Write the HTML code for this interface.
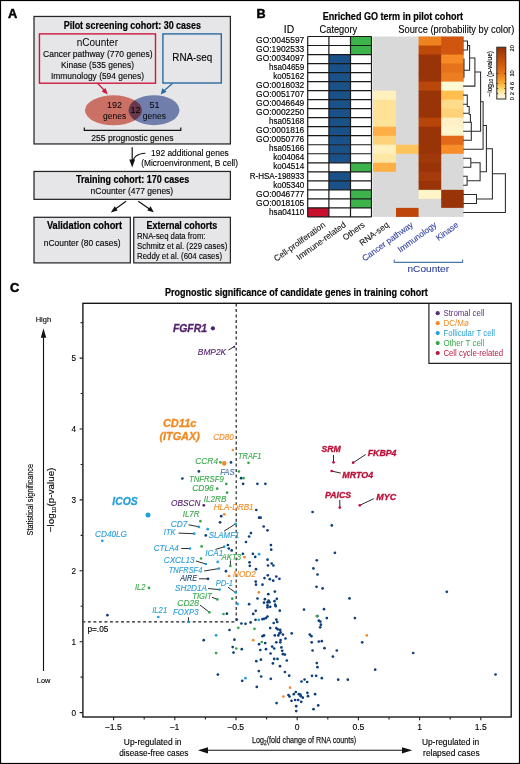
<!DOCTYPE html>
<html><head><meta charset="utf-8">
<style>
html,body{margin:0;padding:0;background:#fff;}
svg{display:block;font-family:"Liberation Sans",sans-serif;will-change:transform;}
</style></head><body>
<svg width="520" height="764" viewBox="0 0 520 764">
<rect x="0" y="0" width="520" height="764" fill="#fff"/>
<!-- ================= PANEL A ================= -->
<g id="panelA">
<text x="7.9" y="18.1" font-size="12.8" font-weight="bold" stroke="#000" stroke-width="0.45">A</text>
<rect x="34.0" y="16.45" width="196.4" height="127.5" fill="#e6e6e8" stroke="#262626" stroke-width="1.25"/>
<text x="63.7" y="29.2" font-size="10.4" font-weight="bold" stroke="#000" stroke-width="0.2" textLength="137.3" lengthAdjust="spacingAndGlyphs">Pilot screening cohort: 30 cases</text>
<rect x="39.45" y="33.9" width="116.05" height="49.3" fill="none" stroke="#cd1a3c" stroke-width="1.4"/>
<text x="76.7" y="46.2" font-size="10" textLength="41.3" lengthAdjust="spacingAndGlyphs">nCounter</text>
<text x="43" y="57" font-size="9.4" textLength="109.5" lengthAdjust="spacingAndGlyphs" fill="#000" stroke="#000" stroke-width="0.12">Cancer pathway (770 genes)</text>
<text x="61" y="67.5" font-size="9.4" textLength="73" lengthAdjust="spacingAndGlyphs" fill="#000" stroke="#000" stroke-width="0.12">Kinase (535 genes)</text>
<text x="51" y="78.5" font-size="9.4" textLength="93" lengthAdjust="spacingAndGlyphs" fill="#000" stroke="#000" stroke-width="0.12">Immunology (594 genes)</text>
<rect x="162.9" y="33.9" width="58.4" height="49.1" fill="none" stroke="#2a69a0" stroke-width="1.4"/>
<text x="172.3" y="61" font-size="10" textLength="39.9" lengthAdjust="spacingAndGlyphs" fill="#000" stroke="#000" stroke-width="0.12">RNA-seq</text>
<!-- arrows to venn -->
<line x1="97.3" y1="83" x2="104.5" y2="90.5" stroke="#cd1a3c" stroke-width="1.2"/>
<polygon points="107.7,94.6 101.6,91.4 105.6,88" fill="#cd1a3c"/>
<line x1="172.4" y1="83.5" x2="164" y2="90.8" stroke="#2a69a0" stroke-width="1.2"/>
<polygon points="160.8,94.6 162.2,88.3 166.6,91.8" fill="#2a69a0"/>
<!-- venn -->
<defs><clipPath id="vr"><ellipse cx="113.5" cy="110.3" rx="28.5" ry="15"/></clipPath></defs>
<ellipse cx="113.5" cy="110.3" rx="28.5" ry="15" fill="rgb(203,112,100)"/>
<ellipse cx="154" cy="110.2" rx="25.4" ry="15" fill="rgb(112,126,172)"/>
<ellipse cx="154" cy="110.2" rx="25.4" ry="15" fill="rgb(104,56,74)" clip-path="url(#vr)"/>
<text x="114.6" y="108.0" font-size="9" text-anchor="middle" fill="#000">192</text>
<text x="114.6" y="119.3" font-size="8.5" text-anchor="middle" fill="#000">genes</text>
<text x="135.4" y="113" font-size="9" text-anchor="middle" fill="#000">12</text>
<text x="154.4" y="108.0" font-size="9" text-anchor="middle" fill="#000">51</text>
<text x="154.4" y="119.3" font-size="8.5" text-anchor="middle" fill="#000">genes</text>
<path d="M84.3,127.6 V130.3 H180.8 V127.6" fill="none" stroke="#111" stroke-width="1.2"/>
<text x="91.3" y="140.9" font-size="8.6" fill="#000" stroke="#000" stroke-width="0.12">255 prognostic genes</text>
<!-- arrow down -->
<line x1="132.2" y1="147.2" x2="132.2" y2="161" stroke="#111" stroke-width="1.2"/>
<polygon points="132.2,167.5 129.3,159.5 135.1,159.5" fill="#111"/>
<path d="M145.4,153.2 C138,153.5 132.8,157 132.3,164" fill="none" stroke="#111" stroke-width="1.1"/>
<text x="151" y="155.6" font-size="8.9" textLength="77.8" lengthAdjust="spacingAndGlyphs" fill="#000" stroke="#000" stroke-width="0.12">192 additional genes</text>
<text x="141.3" y="166" font-size="8.9" textLength="96.7" lengthAdjust="spacingAndGlyphs" fill="#000" stroke="#000" stroke-width="0.12">(Microenvironment, B cell)</text>
<!-- training -->
<rect x="34.0" y="171.45" width="196.4" height="27.9" fill="#e6e6e8" stroke="#262626" stroke-width="1.25"/>
<text x="76" y="183.2" font-size="10.4" font-weight="bold" stroke="#000" stroke-width="0.2" textLength="113.2" lengthAdjust="spacingAndGlyphs">Training cohort: 170 cases</text>
<text x="90.6" y="193.9" font-size="9.4" textLength="82.6" lengthAdjust="spacingAndGlyphs" fill="#000" stroke="#000" stroke-width="0.12">nCounter (477 genes)</text>
<line x1="126" y1="201.3" x2="114" y2="210" stroke="#111" stroke-width="1.2"/>
<polygon points="110.8,212.4 114.8,206.2 117.6,210.5" fill="#111"/>
<line x1="138.3" y1="201.2" x2="150.5" y2="209.8" stroke="#111" stroke-width="1.2"/>
<polygon points="153.8,212.2 147.3,210.6 150.6,206.3" fill="#111"/>
<!-- validation & external -->
<rect x="34.0" y="217.3" width="96.35" height="45.6" fill="#e6e6e8" stroke="#262626" stroke-width="1.25"/>
<text x="46.9" y="228.6" font-size="10.4" font-weight="bold" stroke="#000" stroke-width="0.2" textLength="75.1" lengthAdjust="spacingAndGlyphs">Validation cohort</text>
<text x="43.75" y="246" font-size="9.4" textLength="76.75" lengthAdjust="spacingAndGlyphs" fill="#000" stroke="#000" stroke-width="0.12">nCounter (80 cases)</text>
<rect x="133.75" y="217.3" width="96.65" height="45.6" fill="#e6e6e8" stroke="#262626" stroke-width="1.25"/>
<text x="146.5" y="228.6" font-size="10.4" font-weight="bold" stroke="#000" stroke-width="0.2" textLength="70.7" lengthAdjust="spacingAndGlyphs">External cohorts</text>
<text x="137" y="238.6" font-size="8.9" textLength="68.5" lengthAdjust="spacingAndGlyphs" fill="#000" stroke="#000" stroke-width="0.12">RNA-seq data from:</text>
<text x="137" y="248.7" font-size="8.9" textLength="90.3" lengthAdjust="spacingAndGlyphs" fill="#000" stroke="#000" stroke-width="0.12">Schmitz et al. (229 cases)</text>
<text x="137" y="258.7" font-size="8.9" textLength="85" lengthAdjust="spacingAndGlyphs" fill="#000" stroke="#000" stroke-width="0.12">Reddy et al. (604 cases)</text>
</g>

<g id="panelB">
<text x="256.6" y="18.4" font-size="12.6" font-weight="bold" stroke="#000" stroke-width="0.45">B</text>
<text x="322.7" y="20.3" font-size="10.6" font-weight="bold" stroke="#000" stroke-width="0.2" textLength="140.3" lengthAdjust="spacingAndGlyphs">Enriched GO term in pilot cohort</text>
<text x="289" y="32.6" font-size="10.4" text-anchor="middle" fill="#000" stroke="#000" stroke-width="0.12">ID</text>
<text x="319.5" y="32.6" font-size="10.2" textLength="37.7" lengthAdjust="spacingAndGlyphs" fill="#000" stroke="#000" stroke-width="0.12">Category</text>
<text x="398.3" y="32.6" font-size="10.2" textLength="116" lengthAdjust="spacingAndGlyphs" fill="#000" stroke="#000" stroke-width="0.12">Source (probability by color)</text>
<rect x="373.0" y="36.50" width="90.7" height="180.40" fill="#d9d9d9"/>
<text x="256.1" y="43.20" font-size="8.3" textLength="48.2" lengthAdjust="spacingAndGlyphs" fill="#000" stroke="#000" stroke-width="0.15">GO:0045597</text>
<rect x="350.5" y="36.50" width="21.0" height="9.02" fill="#3cb44b"/>
<rect x="418.6" y="36.50" width="23.20" height="9.62" fill="rgb(238,130,30)"/>
<rect x="441.2" y="36.50" width="22.50" height="9.62" fill="rgb(208,85,15)"/>
<text x="256.1" y="52.22" font-size="8.3" textLength="48.2" lengthAdjust="spacingAndGlyphs" fill="#000" stroke="#000" stroke-width="0.15">GO:1902533</text>
<rect x="350.5" y="45.52" width="21.0" height="9.02" fill="#3cb44b"/>
<rect x="418.6" y="45.52" width="23.20" height="9.62" fill="rgb(190,72,8)"/>
<rect x="441.2" y="45.52" width="22.50" height="9.62" fill="rgb(208,85,15)"/>
<text x="256.1" y="61.24" font-size="8.3" textLength="48.2" lengthAdjust="spacingAndGlyphs" fill="#000" stroke="#000" stroke-width="0.15">GO:0034097</text>
<rect x="328.9" y="54.54" width="21.6" height="9.02" fill="#1b5189"/>
<rect x="418.6" y="54.54" width="23.20" height="9.62" fill="rgb(153,52,8)"/>
<rect x="441.2" y="54.54" width="22.50" height="9.62" fill="rgb(245,138,38)"/>
<text x="269.0" y="70.26" font-size="8.3" textLength="35.3" lengthAdjust="spacingAndGlyphs" fill="#000" stroke="#000" stroke-width="0.15">hsa04659</text>
<rect x="328.9" y="63.56" width="21.6" height="9.02" fill="#1b5189"/>
<rect x="418.6" y="63.56" width="23.20" height="9.62" fill="rgb(153,52,8)"/>
<rect x="441.2" y="63.56" width="22.50" height="9.62" fill="rgb(230,115,28)"/>
<text x="273.2" y="79.28" font-size="8.3" textLength="31.1" lengthAdjust="spacingAndGlyphs" fill="#000" stroke="#000" stroke-width="0.15">ko05162</text>
<rect x="328.9" y="72.58" width="21.6" height="9.02" fill="#1b5189"/>
<rect x="418.6" y="72.58" width="23.20" height="9.62" fill="rgb(153,52,8)"/>
<rect x="441.2" y="72.58" width="22.50" height="9.62" fill="rgb(236,125,32)"/>
<text x="256.1" y="88.30" font-size="8.3" textLength="48.2" lengthAdjust="spacingAndGlyphs" fill="#000" stroke="#000" stroke-width="0.15">GO:0016032</text>
<rect x="328.9" y="81.60" width="21.6" height="9.02" fill="#1b5189"/>
<rect x="418.6" y="81.60" width="23.20" height="9.62" fill="rgb(185,70,10)"/>
<rect x="441.2" y="81.60" width="22.50" height="9.62" fill="rgb(255,250,212)"/>
<text x="256.1" y="97.32" font-size="8.3" textLength="48.2" lengthAdjust="spacingAndGlyphs" fill="#000" stroke="#000" stroke-width="0.15">GO:0051707</text>
<rect x="328.9" y="90.62" width="21.6" height="9.02" fill="#1b5189"/>
<rect x="373.0" y="90.62" width="23.00" height="9.62" fill="rgb(255,241,190)"/>
<rect x="418.6" y="90.62" width="23.20" height="9.62" fill="rgb(153,52,8)"/>
<rect x="441.2" y="90.62" width="22.50" height="9.62" fill="rgb(254,190,80)"/>
<text x="256.1" y="106.34" font-size="8.3" textLength="48.2" lengthAdjust="spacingAndGlyphs" fill="#000" stroke="#000" stroke-width="0.15">GO:0046649</text>
<rect x="328.9" y="99.64" width="21.6" height="9.02" fill="#1b5189"/>
<rect x="373.0" y="99.64" width="23.00" height="9.62" fill="rgb(254,226,152)"/>
<rect x="418.6" y="99.64" width="23.20" height="9.62" fill="rgb(153,52,8)"/>
<rect x="441.2" y="99.64" width="22.50" height="9.62" fill="rgb(254,220,140)"/>
<text x="256.1" y="115.36" font-size="8.3" textLength="48.2" lengthAdjust="spacingAndGlyphs" fill="#000" stroke="#000" stroke-width="0.15">GO:0002250</text>
<rect x="328.9" y="108.66" width="21.6" height="9.02" fill="#1b5189"/>
<rect x="373.0" y="108.66" width="23.00" height="9.62" fill="rgb(254,226,152)"/>
<rect x="418.6" y="108.66" width="23.20" height="9.62" fill="rgb(153,52,8)"/>
<rect x="441.2" y="108.66" width="22.50" height="9.62" fill="rgb(254,210,120)"/>
<text x="269.0" y="124.38" font-size="8.3" textLength="35.3" lengthAdjust="spacingAndGlyphs" fill="#000" stroke="#000" stroke-width="0.15">hsa05168</text>
<rect x="328.9" y="117.68" width="21.6" height="9.02" fill="#1b5189"/>
<rect x="373.0" y="117.68" width="23.00" height="9.62" fill="rgb(254,226,152)"/>
<rect x="418.6" y="117.68" width="23.20" height="9.62" fill="rgb(185,68,10)"/>
<rect x="441.2" y="117.68" width="22.50" height="9.62" fill="rgb(255,240,200)"/>
<text x="256.1" y="133.40" font-size="8.3" textLength="48.2" lengthAdjust="spacingAndGlyphs" fill="#000" stroke="#000" stroke-width="0.15">GO:0001816</text>
<rect x="328.9" y="126.70" width="21.6" height="9.02" fill="#1b5189"/>
<rect x="373.0" y="126.70" width="23.00" height="9.62" fill="rgb(253,175,70)"/>
<rect x="418.6" y="126.70" width="23.20" height="9.62" fill="rgb(153,52,8)"/>
<rect x="441.2" y="126.70" width="22.50" height="9.62" fill="rgb(255,245,205)"/>
<text x="256.1" y="142.42" font-size="8.3" textLength="48.2" lengthAdjust="spacingAndGlyphs" fill="#000" stroke="#000" stroke-width="0.15">GO:0050776</text>
<rect x="328.9" y="135.72" width="21.6" height="9.02" fill="#1b5189"/>
<rect x="373.0" y="135.72" width="23.00" height="9.62" fill="rgb(254,210,120)"/>
<rect x="418.6" y="135.72" width="23.20" height="9.62" fill="rgb(153,52,8)"/>
<rect x="441.2" y="135.72" width="22.50" height="9.62" fill="rgb(225,105,25)"/>
<text x="269.0" y="151.44" font-size="8.3" textLength="35.3" lengthAdjust="spacingAndGlyphs" fill="#000" stroke="#000" stroke-width="0.15">hsa05166</text>
<rect x="328.9" y="144.74" width="21.6" height="9.02" fill="#1b5189"/>
<rect x="373.0" y="144.74" width="23.60" height="9.62" fill="rgb(255,240,190)"/>
<rect x="396.0" y="144.74" width="23.20" height="9.02" fill="rgb(254,195,90)"/>
<rect x="418.6" y="144.74" width="23.20" height="9.62" fill="rgb(153,52,8)"/>
<rect x="441.2" y="144.74" width="22.50" height="9.02" fill="rgb(248,140,40)"/>
<text x="273.2" y="160.46" font-size="8.3" textLength="31.1" lengthAdjust="spacingAndGlyphs" fill="#000" stroke="#000" stroke-width="0.15">ko04064</text>
<rect x="328.9" y="153.76" width="21.6" height="9.02" fill="#1b5189"/>
<rect x="373.0" y="153.76" width="23.00" height="9.62" fill="rgb(254,230,165)"/>
<rect x="418.6" y="153.76" width="22.60" height="9.62" fill="rgb(160,56,9)"/>
<text x="273.2" y="169.48" font-size="8.3" textLength="31.1" lengthAdjust="spacingAndGlyphs" fill="#000" stroke="#000" stroke-width="0.15">ko04514</text>
<rect x="350.5" y="162.78" width="21.0" height="9.02" fill="#3cb44b"/>
<rect x="373.0" y="162.78" width="23.00" height="9.02" fill="rgb(253,175,70)"/>
<rect x="418.6" y="162.78" width="22.60" height="9.62" fill="rgb(153,52,8)"/>
<text x="249.7" y="178.50" font-size="8.3" textLength="54.6" lengthAdjust="spacingAndGlyphs" fill="#000" stroke="#000" stroke-width="0.15">R-HSA-198933</text>
<rect x="328.9" y="171.80" width="21.6" height="9.02" fill="#1b5189"/>
<rect x="418.6" y="171.80" width="22.60" height="9.62" fill="rgb(165,58,10)"/>
<text x="273.2" y="187.52" font-size="8.3" textLength="31.1" lengthAdjust="spacingAndGlyphs" fill="#000" stroke="#000" stroke-width="0.15">ko05340</text>
<rect x="328.9" y="180.82" width="21.6" height="9.02" fill="#1b5189"/>
<rect x="418.6" y="180.82" width="22.60" height="9.62" fill="rgb(153,52,8)"/>
<text x="256.1" y="196.54" font-size="8.3" textLength="48.2" lengthAdjust="spacingAndGlyphs" fill="#000" stroke="#000" stroke-width="0.15">GO:0046777</text>
<rect x="350.5" y="189.84" width="21.0" height="9.02" fill="#3cb44b"/>
<rect x="418.6" y="189.84" width="23.20" height="9.02" fill="rgb(255,245,200)"/>
<rect x="441.2" y="189.84" width="22.50" height="9.62" fill="rgb(153,52,8)"/>
<text x="256.1" y="205.56" font-size="8.3" textLength="48.2" lengthAdjust="spacingAndGlyphs" fill="#000" stroke="#000" stroke-width="0.15">GO:0018105</text>
<rect x="350.5" y="198.86" width="21.0" height="9.02" fill="#3cb44b"/>
<rect x="441.2" y="198.86" width="22.50" height="9.02" fill="rgb(153,52,8)"/>
<text x="269.0" y="214.58" font-size="8.3" textLength="35.3" lengthAdjust="spacingAndGlyphs" fill="#000" stroke="#000" stroke-width="0.15">hsa04110</text>
<rect x="307.7" y="207.88" width="21.2" height="9.02" fill="#c8102e"/>
<rect x="396.0" y="207.88" width="22.60" height="9.02" fill="rgb(190,70,10)"/>
<path d="M307.7,36.50H371.5M307.7,45.52H371.5M307.7,54.54H371.5M307.7,63.56H371.5M307.7,72.58H371.5M307.7,81.60H371.5M307.7,90.62H371.5M307.7,99.64H371.5M307.7,108.66H371.5M307.7,117.68H371.5M307.7,126.70H371.5M307.7,135.72H371.5M307.7,144.74H371.5M307.7,153.76H371.5M307.7,162.78H371.5M307.7,171.80H371.5M307.7,180.82H371.5M307.7,189.84H371.5M307.7,198.86H371.5M307.7,207.88H371.5M307.7,216.90H371.5M307.7,36.50V216.90M328.9,36.50V216.90M350.5,36.50V216.90M371.5,36.50V216.90" fill="none" stroke="#1a1a1a" stroke-width="1.2"/>
<path d="M463.7,41.00H467.5M463.7,50.00H467.5M467.5,41.00V50.00M467.5,45.50H469.6M464.0,59.10V77.10M464.0,70.30H469.6M469.6,45.50V70.30M469.6,57.90H474.9M463.7,86.10H474.9M474.9,57.90V86.10M474.9,72.00H480.6M480.6,72.00V131.20M463.7,95.10H467.3M463.7,104.20H467.3M467.3,95.10V106.40M467.3,106.40H469.2M469.2,106.40V113.20M463.7,113.20H469.2M469.2,114.50H470.4M470.4,114.50V122.20M463.7,122.20H470.4M471.3,122.20V140.20M463.7,140.20H471.3M463.7,131.20H480.6M480.6,101.75H483.1M483.1,101.75V149.30M463.7,149.30H483.1M483.1,125.50H486.4M486.4,125.50V171.80M463.7,158.30H470.8M463.7,167.30H470.8M470.8,158.30V167.30M470.8,162.80H480.1M463.7,176.30H467.1M463.7,185.30H467.1M467.1,176.30V185.30M467.1,180.80H480.1M480.1,162.80V180.80M480.1,171.80H486.4M486.4,148.65H492.4M492.4,148.65V198.90M463.7,194.40H476.5M463.7,203.40H476.5M476.5,194.40V203.40M476.5,198.90H492.4M492.4,173.80H505.4M505.4,173.80V212.40M463.7,212.40H505.4" fill="none" stroke="#2a2a2a" stroke-width="1.05" stroke-linecap="square"/>
<defs><linearGradient id="cb" x1="0" y1="1" x2="0" y2="0"><stop offset="0" stop-color="rgb(255,250,228)"/><stop offset="0.1" stop-color="rgb(255,240,190)"/><stop offset="0.2" stop-color="rgb(254,215,110)"/><stop offset="0.3" stop-color="rgb(252,175,50)"/><stop offset="0.5" stop-color="rgb(232,115,22)"/><stop offset="0.75" stop-color="rgb(195,80,12)"/><stop offset="1" stop-color="rgb(145,48,8)"/></linearGradient></defs>
<rect x="496.8" y="47.2" width="9" height="51.8" fill="url(#cb)" stroke="#2a2a2a" stroke-width="1"/>
<path d="M496.8,73.45h1.4M505.8,73.45h-1.4M496.8,83.51h1.4M505.8,83.51h-1.4M496.8,88.54h1.4M505.8,88.54h-1.4M496.8,93.57h1.4M505.8,93.57h-1.4" stroke="#2a2a2a" stroke-width="0.9"/>
<text transform="translate(513.8,48.30) rotate(-90)" font-size="5.6" text-anchor="middle" fill="#000" stroke="#000" stroke-width="0.12">20</text>
<text transform="translate(513.8,73.45) rotate(-90)" font-size="5.6" text-anchor="middle" fill="#000" stroke="#000" stroke-width="0.12">10</text>
<text transform="translate(513.8,83.51) rotate(-90)" font-size="5.6" text-anchor="middle" fill="#000" stroke="#000" stroke-width="0.12">6</text>
<text transform="translate(513.8,88.54) rotate(-90)" font-size="5.6" text-anchor="middle" fill="#000" stroke="#000" stroke-width="0.12">4</text>
<text transform="translate(513.8,93.57) rotate(-90)" font-size="5.6" text-anchor="middle" fill="#000" stroke="#000" stroke-width="0.12">2</text>
<text transform="translate(513.8,98.60) rotate(-90)" font-size="5.6" text-anchor="middle" fill="#000" stroke="#000" stroke-width="0.12">0</text>
<text transform="translate(491.6,73.8) rotate(-90)" font-size="6.6" text-anchor="middle" fill="#000" stroke="#000" stroke-width="0.12">−log<tspan font-size="4.6" dy="1.6">10</tspan><tspan dy="-1.6"> (p-value)</tspan></text>
<text transform="translate(325.9,226.0) rotate(-36)" font-size="8.4" text-anchor="end" fill="#1a1a1a" stroke="#1a1a1a" stroke-width="0.12">Cell-proliferation</text>
<text transform="translate(346.5,226.0) rotate(-36)" font-size="8.4" text-anchor="end" fill="#1a1a1a" stroke="#1a1a1a" stroke-width="0.12">Immune-related</text>
<text transform="translate(365.5,226.0) rotate(-36)" font-size="8.4" text-anchor="end" fill="#1a1a1a" stroke="#1a1a1a" stroke-width="0.12">Others</text>
<text transform="translate(389.5,226.0) rotate(-36)" font-size="8.4" text-anchor="end" fill="#1a1a1a" stroke="#1a1a1a" stroke-width="0.12">RNA-seq</text>
<text transform="translate(413.7,226.0) rotate(-36)" font-size="8.4" text-anchor="end" fill="#3446a0" stroke="#3446a0" stroke-width="0.12">Cancer pathway</text>
<text transform="translate(437.2,226.0) rotate(-36)" font-size="8.4" text-anchor="end" fill="#3446a0" stroke="#3446a0" stroke-width="0.12">Immunology</text>
<text transform="translate(459.1,226.0) rotate(-36)" font-size="8.4" text-anchor="end" fill="#3446a0" stroke="#3446a0" stroke-width="0.12">Kinase</text>
<path d="M394.2,259.6V262.4H462.6V259.6" fill="none" stroke="#4a78aa" stroke-width="1.1"/>
<text x="407.5" y="272" font-size="9" textLength="41.6" lengthAdjust="spacingAndGlyphs" fill="#3446a0" stroke="#3446a0" stroke-width="0.12">nCounter</text>
</g>
<g id="panelC">
<text x="10.1" y="292.2" font-size="12.8" font-weight="bold" stroke="#000" stroke-width="0.5">C</text>
<text x="165" y="296.4" font-size="10" font-weight="bold" stroke="#000" stroke-width="0.2" textLength="262.7" lengthAdjust="spacingAndGlyphs">Prognostic significance of candidate genes in training cohort</text>
<path d="M236.2,303.5V621.8H83.5" fill="none" stroke="#1a1a1a" stroke-width="1.15" stroke-dasharray="2.9,2.62"/>
<rect x="82.9" y="303.3" width="428.3" height="413.7" fill="none" stroke="#111" stroke-width="1.35"/>
<text x="76" y="715.60" font-size="8.2" text-anchor="end" fill="#000" stroke="#000" stroke-width="0.12">0</text>
<text x="76" y="644.70" font-size="8.2" text-anchor="end" fill="#000" stroke="#000" stroke-width="0.12">1</text>
<text x="76" y="573.80" font-size="8.2" text-anchor="end" fill="#000" stroke="#000" stroke-width="0.12">2</text>
<text x="76" y="502.90" font-size="8.2" text-anchor="end" fill="#000" stroke="#000" stroke-width="0.12">3</text>
<text x="76" y="432.00" font-size="8.2" text-anchor="end" fill="#000" stroke="#000" stroke-width="0.12">4</text>
<text x="76" y="361.10" font-size="8.2" text-anchor="end" fill="#000" stroke="#000" stroke-width="0.12">5</text>
<path d="M79.6,712.60H82.9M79.6,641.70H82.9M79.6,570.80H82.9M79.6,499.90H82.9M79.6,429.00H82.9M79.6,358.10H82.9M80.6,677.15H82.9M80.6,606.25H82.9M80.6,535.35H82.9M80.6,464.45H82.9M80.6,393.55H82.9M80.6,322.65H82.9M113.60,717.0V720.2M174.80,717.0V720.2M236.00,717.0V720.2M297.20,717.0V720.2M358.40,717.0V720.2M419.60,717.0V720.2M480.80,717.0V720.2M144.20,717.0V719.4M205.40,717.0V719.4M266.60,717.0V719.4M327.80,717.0V719.4M389.00,717.0V719.4M450.20,717.0V719.4" stroke="#222" stroke-width="1.1"/>
<text x="113.20" y="729.8" font-size="8.6" text-anchor="middle" fill="#000" stroke="#000" stroke-width="0.12">−1.5</text>
<text x="174.40" y="729.8" font-size="8.6" text-anchor="middle" fill="#000" stroke="#000" stroke-width="0.12">−1</text>
<text x="235.60" y="729.8" font-size="8.6" text-anchor="middle" fill="#000" stroke="#000" stroke-width="0.12">−0.5</text>
<text x="297.20" y="729.8" font-size="8.6" text-anchor="middle" fill="#000" stroke="#000" stroke-width="0.12">0</text>
<text x="358.40" y="729.8" font-size="8.6" text-anchor="middle" fill="#000" stroke="#000" stroke-width="0.12">0.5</text>
<text x="419.60" y="729.8" font-size="8.6" text-anchor="middle" fill="#000" stroke="#000" stroke-width="0.12">1</text>
<text x="480.80" y="729.8" font-size="8.6" text-anchor="middle" fill="#000" stroke="#000" stroke-width="0.12">1.5</text>
<text x="252" y="742.6" font-size="9.8" textLength="104.2" lengthAdjust="spacingAndGlyphs" fill="#1a1a1a" stroke="#1a1a1a" stroke-width="0.25">Log<tspan font-size="6.6" dy="2">2</tspan><tspan dy="-2">(fold change of RNA counts)</tspan></text>
<text x="123.8" y="744.5" font-size="8.2" textLength="57.7" lengthAdjust="spacingAndGlyphs" fill="#000" stroke="#000" stroke-width="0.12">Up-regulated in</text>
<text x="119.2" y="756" font-size="8.2" textLength="69.3" lengthAdjust="spacingAndGlyphs" fill="#000" stroke="#000" stroke-width="0.12">disease-free cases</text>
<text x="421.9" y="745.3" font-size="8.2" textLength="57.3" lengthAdjust="spacingAndGlyphs" fill="#000" stroke="#000" stroke-width="0.12">Up-regulated in</text>
<text x="423.1" y="756.1" font-size="8.2" textLength="56.5" lengthAdjust="spacingAndGlyphs" fill="#000" stroke="#000" stroke-width="0.12">relapsed cases</text>
<line x1="205" y1="750.3" x2="404" y2="750.3" stroke="#111" stroke-width="1.1"/>
<polygon points="197.9,750.3 208,747.2 208,753.4" fill="#111"/>
<polygon points="412.2,750.3 402,747.2 402,753.4" fill="#111"/>
<line x1="43.5" y1="335" x2="43.5" y2="671" stroke="#111" stroke-width="1.1"/>
<polygon points="43.5,328.3 40.8,337.8 46.2,337.8" fill="#111"/>
<text x="35.7" y="321.7" font-size="7.6" textLength="15.4" lengthAdjust="spacingAndGlyphs" fill="#000" stroke="#000" stroke-width="0.12">High</text>
<text x="36.8" y="683.1" font-size="7.6" textLength="13.6" lengthAdjust="spacingAndGlyphs" fill="#000" stroke="#000" stroke-width="0.12">Low</text>
<text transform="translate(33.0,535.4) rotate(-90)" font-size="9.2" textLength="71.4" lengthAdjust="spacingAndGlyphs" fill="#000" stroke="#000" stroke-width="0.12">Statistical significance</text>
<text transform="translate(54.3,532.2) rotate(-90)" font-size="9.6" textLength="64.6" lengthAdjust="spacingAndGlyphs" fill="#000" stroke="#000" stroke-width="0.12">−log<tspan font-size="6" dy="2">10</tspan><tspan dy="-2">(p-value)</tspan></text>
<text x="87.4" y="632.2" font-size="8.3" textLength="21.0" lengthAdjust="spacingAndGlyphs" fill="#000" stroke="#000" stroke-width="0.12">p=.05</text>
<path d="M428.9,303.3V363.3H511.2" fill="none" stroke="#222" stroke-width="1.2"/>
<circle cx="437.7" cy="313.20" r="2.1" fill="#5a2d7e"/>
<text x="443.4" y="316.00" font-size="8.5" fill="#5a2d7e" textLength="41.0" lengthAdjust="spacingAndGlyphs">Stromal cell</text>
<circle cx="437.7" cy="323.15" r="2.1" fill="#f08c2a"/>
<text x="443.4" y="325.95" font-size="8.5" fill="#f08c2a" textLength="25.4" lengthAdjust="spacingAndGlyphs">DC/Mø</text>
<circle cx="437.7" cy="333.10" r="2.1" fill="#2a9fd8"/>
<text x="443.4" y="335.90" font-size="8.5" fill="#2a9fd8" textLength="51.6" lengthAdjust="spacingAndGlyphs">Follicular T cell</text>
<circle cx="437.7" cy="343.05" r="2.1" fill="#3aa84a"/>
<text x="443.4" y="345.85" font-size="8.5" fill="#3aa84a" textLength="41.0" lengthAdjust="spacingAndGlyphs">Other T cell</text>
<circle cx="437.7" cy="353.00" r="2.1" fill="#b8173f"/>
<text x="443.4" y="355.80" font-size="8.5" fill="#b8173f" textLength="59.8" lengthAdjust="spacingAndGlyphs">Cell cycle-related</text>
<path d="M228.3,350.2L233.8,346.8M188.5,524.8L198.5,526.7M178.5,533.1L193.8,533.7M224.0,531.2L235.6,523.8M181.2,548.5L189.0,548.5M215.4,549.4L224.0,546.9M230.4,560.4L230.4,565.8M195.8,561.0L205.4,563.8M204.2,571.0L218.3,568.7M199.0,578.8L207.7,578.8M227.9,587.1L234.6,591.9M208.1,588.5L219.2,589.6M211.9,597.3L216.9,599.2M200.0,605.0L209.2,612.1M188.5,617.3L188.5,621.7M333.5,455.0L333.5,462.1M365.8,454.4L353.3,462.7M340.8,473.1L332.1,471.2M339.8,500.0L339.8,507.3M373.8,498.7L360.4,505.0" stroke="#222" stroke-width="0.95" fill="none"/>
<circle cx="317.4" cy="616.1" r="1.35" fill="#0d3f7a"/>
<circle cx="255.5" cy="619.8" r="1.35" fill="#0d3f7a"/>
<circle cx="248.5" cy="462.8" r="1.35" fill="#34a94a"/>
<circle cx="238.9" cy="471.5" r="1.35" fill="#34a94a"/>
<circle cx="241.1" cy="478.2" r="1.35" fill="#0d3f7a"/>
<circle cx="243.5" cy="478.2" r="1.35" fill="#34a94a"/>
<circle cx="243.1" cy="483.8" r="1.35" fill="#0d3f7a"/>
<circle cx="257.4" cy="483.8" r="1.35" fill="#0d3f7a"/>
<circle cx="265.4" cy="483.8" r="1.35" fill="#0d3f7a"/>
<circle cx="256.3" cy="510.0" r="1.35" fill="#0d3f7a"/>
<circle cx="259.1" cy="517.7" r="1.35" fill="#0d3f7a"/>
<circle cx="260.6" cy="517.7" r="1.35" fill="#0d3f7a"/>
<circle cx="263.7" cy="526.5" r="1.35" fill="#0d3f7a"/>
<circle cx="267.5" cy="530.3" r="1.35" fill="#0d3f7a"/>
<circle cx="250.9" cy="533.1" r="1.35" fill="#0d3f7a"/>
<circle cx="249.1" cy="536.5" r="1.35" fill="#0d3f7a"/>
<circle cx="246.0" cy="542.0" r="1.35" fill="#0d3f7a"/>
<circle cx="270.9" cy="545.1" r="1.35" fill="#0d3f7a"/>
<circle cx="271.2" cy="549.7" r="1.35" fill="#0d3f7a"/>
<circle cx="242.9" cy="553.8" r="1.35" fill="#0d3f7a"/>
<circle cx="252.9" cy="553.8" r="1.35" fill="#0d3f7a"/>
<circle cx="255.2" cy="556.9" r="1.35" fill="#0d3f7a"/>
<circle cx="259.1" cy="554.2" r="1.35" fill="#1f9fdc"/>
<circle cx="244.5" cy="557.2" r="1.35" fill="#f5892a"/>
<circle cx="267.5" cy="559.7" r="1.35" fill="#0d3f7a"/>
<circle cx="249.5" cy="562.3" r="1.35" fill="#0d3f7a"/>
<circle cx="271.7" cy="563.5" r="1.35" fill="#0d3f7a"/>
<circle cx="312.6" cy="512.0" r="1.35" fill="#0d3f7a"/>
<circle cx="249.8" cy="565.8" r="1.35" fill="#0d3f7a"/>
<circle cx="256.0" cy="569.2" r="1.35" fill="#0d3f7a"/>
<circle cx="268.0" cy="565.5" r="1.35" fill="#0d3f7a"/>
<circle cx="273.4" cy="565.5" r="1.35" fill="#0d3f7a"/>
<circle cx="313.4" cy="568.4" r="1.35" fill="#0d3f7a"/>
<circle cx="264.5" cy="578.1" r="1.35" fill="#0d3f7a"/>
<circle cx="267.8" cy="575.3" r="1.35" fill="#0d3f7a"/>
<circle cx="269.8" cy="579.2" r="1.35" fill="#0d3f7a"/>
<circle cx="273.2" cy="580.7" r="1.35" fill="#0d3f7a"/>
<circle cx="276.3" cy="576.5" r="1.35" fill="#0d3f7a"/>
<circle cx="279.4" cy="578.8" r="1.35" fill="#0d3f7a"/>
<circle cx="255.7" cy="581.6" r="1.35" fill="#0d3f7a"/>
<circle cx="256.0" cy="584.7" r="1.35" fill="#0d3f7a"/>
<circle cx="262.5" cy="584.7" r="1.35" fill="#0d3f7a"/>
<circle cx="274.9" cy="591.6" r="1.35" fill="#0d3f7a"/>
<circle cx="268.3" cy="594.2" r="1.35" fill="#0d3f7a"/>
<circle cx="257.5" cy="598.5" r="1.35" fill="#0d3f7a"/>
<circle cx="264.9" cy="599.2" r="1.35" fill="#0d3f7a"/>
<circle cx="268.6" cy="600.7" r="1.35" fill="#0d3f7a"/>
<circle cx="269.5" cy="602.2" r="1.35" fill="#0d3f7a"/>
<circle cx="267.5" cy="602.4" r="1.35" fill="#0d3f7a"/>
<circle cx="274.5" cy="601.2" r="1.35" fill="#0d3f7a"/>
<circle cx="276.8" cy="598.8" r="1.35" fill="#0d3f7a"/>
<circle cx="264.0" cy="602.7" r="1.35" fill="#0d3f7a"/>
<circle cx="249.1" cy="604.2" r="1.35" fill="#0d3f7a"/>
<circle cx="267.5" cy="605.3" r="1.35" fill="#0d3f7a"/>
<circle cx="275.2" cy="604.7" r="1.35" fill="#0d3f7a"/>
<circle cx="275.7" cy="606.2" r="1.35" fill="#0d3f7a"/>
<circle cx="267.5" cy="607.3" r="1.35" fill="#0d3f7a"/>
<circle cx="270.2" cy="606.8" r="1.35" fill="#0d3f7a"/>
<circle cx="279.8" cy="610.7" r="1.35" fill="#0d3f7a"/>
<circle cx="304.0" cy="609.6" r="1.35" fill="#0d3f7a"/>
<circle cx="255.7" cy="610.8" r="1.35" fill="#0d3f7a"/>
<circle cx="253.2" cy="613.9" r="1.35" fill="#0d3f7a"/>
<circle cx="267.5" cy="616.5" r="1.35" fill="#0d3f7a"/>
<circle cx="266.0" cy="618.1" r="1.35" fill="#0d3f7a"/>
<circle cx="264.0" cy="618.8" r="1.35" fill="#0d3f7a"/>
<circle cx="262.5" cy="619.2" r="1.35" fill="#0d3f7a"/>
<circle cx="236.8" cy="619.6" r="1.35" fill="#0d3f7a"/>
<circle cx="276.3" cy="619.6" r="1.35" fill="#0d3f7a"/>
<circle cx="277.2" cy="621.9" r="1.35" fill="#0d3f7a"/>
<circle cx="273.7" cy="623.0" r="1.35" fill="#0d3f7a"/>
<circle cx="241.4" cy="623.5" r="1.35" fill="#0d3f7a"/>
<circle cx="245.5" cy="623.8" r="1.35" fill="#0d3f7a"/>
<circle cx="250.6" cy="622.4" r="1.35" fill="#0d3f7a"/>
<circle cx="270.2" cy="628.1" r="1.35" fill="#0d3f7a"/>
<circle cx="276.3" cy="628.1" r="1.35" fill="#0d3f7a"/>
<circle cx="280.2" cy="629.9" r="1.35" fill="#0d3f7a"/>
<circle cx="277.8" cy="629.3" r="1.35" fill="#0d3f7a"/>
<circle cx="258.8" cy="619.9" r="1.35" fill="#1f9fdc"/>
<circle cx="237.5" cy="603.9" r="1.35" fill="#1f9fdc"/>
<circle cx="258.8" cy="592.4" r="1.35" fill="#f5892a"/>
<circle cx="238.3" cy="627.8" r="1.35" fill="#34a94a"/>
<circle cx="254.5" cy="628.8" r="1.35" fill="#34a94a"/>
<circle cx="262.5" cy="636.2" r="1.35" fill="#0d3f7a"/>
<circle cx="264.0" cy="635.4" r="1.35" fill="#0d3f7a"/>
<circle cx="274.8" cy="635.4" r="1.35" fill="#0d3f7a"/>
<circle cx="278.3" cy="635.4" r="1.35" fill="#0d3f7a"/>
<circle cx="279.4" cy="633.4" r="1.35" fill="#0d3f7a"/>
<circle cx="280.6" cy="632.3" r="1.35" fill="#0d3f7a"/>
<circle cx="282.9" cy="634.6" r="1.35" fill="#0d3f7a"/>
<circle cx="291.7" cy="633.4" r="1.35" fill="#0d3f7a"/>
<circle cx="309.8" cy="634.6" r="1.35" fill="#0d3f7a"/>
<circle cx="311.4" cy="636.2" r="1.35" fill="#0d3f7a"/>
<circle cx="285.5" cy="638.5" r="1.35" fill="#0d3f7a"/>
<circle cx="280.6" cy="640.0" r="1.35" fill="#0d3f7a"/>
<circle cx="276.3" cy="642.3" r="1.35" fill="#0d3f7a"/>
<circle cx="280.3" cy="642.3" r="1.35" fill="#0d3f7a"/>
<circle cx="265.2" cy="643.1" r="1.35" fill="#0d3f7a"/>
<circle cx="259.1" cy="644.2" r="1.35" fill="#0d3f7a"/>
<circle cx="311.7" cy="642.3" r="1.35" fill="#0d3f7a"/>
<circle cx="241.8" cy="649.2" r="1.35" fill="#0d3f7a"/>
<circle cx="260.3" cy="650.0" r="1.35" fill="#0d3f7a"/>
<circle cx="266.0" cy="649.2" r="1.35" fill="#0d3f7a"/>
<circle cx="272.2" cy="646.6" r="1.35" fill="#0d3f7a"/>
<circle cx="274.2" cy="648.5" r="1.35" fill="#0d3f7a"/>
<circle cx="281.4" cy="647.4" r="1.35" fill="#0d3f7a"/>
<circle cx="282.2" cy="650.8" r="1.35" fill="#0d3f7a"/>
<circle cx="312.6" cy="650.5" r="1.35" fill="#0d3f7a"/>
<circle cx="270.6" cy="653.5" r="1.35" fill="#0d3f7a"/>
<circle cx="282.9" cy="654.2" r="1.35" fill="#0d3f7a"/>
<circle cx="284.9" cy="654.6" r="1.35" fill="#0d3f7a"/>
<circle cx="256.3" cy="661.2" r="1.35" fill="#0d3f7a"/>
<circle cx="260.9" cy="659.7" r="1.35" fill="#0d3f7a"/>
<circle cx="274.2" cy="658.9" r="1.35" fill="#0d3f7a"/>
<circle cx="277.5" cy="658.9" r="1.35" fill="#0d3f7a"/>
<circle cx="286.8" cy="660.5" r="1.35" fill="#0d3f7a"/>
<circle cx="272.9" cy="663.4" r="1.35" fill="#0d3f7a"/>
<circle cx="280.0" cy="666.2" r="1.35" fill="#0d3f7a"/>
<circle cx="258.8" cy="671.1" r="1.35" fill="#0d3f7a"/>
<circle cx="242.2" cy="680.8" r="1.35" fill="#0d3f7a"/>
<circle cx="256.8" cy="686.9" r="1.35" fill="#0d3f7a"/>
<circle cx="245.5" cy="678.2" r="1.35" fill="#1f9fdc"/>
<circle cx="253.2" cy="640.2" r="1.35" fill="#f5892a"/>
<circle cx="261.8" cy="642.0" r="1.35" fill="#34a94a"/>
<circle cx="236.3" cy="648.5" r="1.35" fill="#34a94a"/>
<circle cx="261.2" cy="676.5" r="1.35" fill="#0d3f7a"/>
<circle cx="270.8" cy="678.8" r="1.35" fill="#0d3f7a"/>
<circle cx="284.9" cy="672.0" r="1.35" fill="#0d3f7a"/>
<circle cx="289.2" cy="675.7" r="1.35" fill="#0d3f7a"/>
<circle cx="301.5" cy="681.5" r="1.35" fill="#0d3f7a"/>
<circle cx="304.6" cy="679.5" r="1.35" fill="#0d3f7a"/>
<circle cx="307.2" cy="682.0" r="1.35" fill="#0d3f7a"/>
<circle cx="312.0" cy="675.8" r="1.35" fill="#0d3f7a"/>
<circle cx="316.2" cy="675.8" r="1.35" fill="#0d3f7a"/>
<circle cx="321.8" cy="678.2" r="1.35" fill="#0d3f7a"/>
<circle cx="338.2" cy="679.7" r="1.35" fill="#0d3f7a"/>
<circle cx="288.5" cy="695.1" r="1.35" fill="#0d3f7a"/>
<circle cx="289.5" cy="696.5" r="1.35" fill="#0d3f7a"/>
<circle cx="293.8" cy="694.2" r="1.35" fill="#0d3f7a"/>
<circle cx="295.8" cy="692.0" r="1.35" fill="#0d3f7a"/>
<circle cx="298.8" cy="694.2" r="1.35" fill="#0d3f7a"/>
<circle cx="300.3" cy="694.6" r="1.35" fill="#0d3f7a"/>
<circle cx="300.8" cy="696.2" r="1.35" fill="#0d3f7a"/>
<circle cx="302.8" cy="697.7" r="1.35" fill="#0d3f7a"/>
<circle cx="307.4" cy="692.8" r="1.35" fill="#0d3f7a"/>
<circle cx="308.0" cy="696.2" r="1.35" fill="#0d3f7a"/>
<circle cx="315.1" cy="694.2" r="1.35" fill="#0d3f7a"/>
<circle cx="291.5" cy="700.8" r="1.35" fill="#0d3f7a"/>
<circle cx="295.1" cy="700.0" r="1.35" fill="#0d3f7a"/>
<circle cx="298.2" cy="700.0" r="1.35" fill="#0d3f7a"/>
<circle cx="301.2" cy="701.8" r="1.35" fill="#0d3f7a"/>
<circle cx="276.6" cy="703.1" r="1.35" fill="#0d3f7a"/>
<circle cx="296.2" cy="706.2" r="1.35" fill="#0d3f7a"/>
<circle cx="318.2" cy="705.4" r="1.35" fill="#0d3f7a"/>
<circle cx="313.5" cy="709.2" r="1.35" fill="#0d3f7a"/>
<circle cx="296.2" cy="711.1" r="1.35" fill="#0d3f7a"/>
<circle cx="290.0" cy="687.7" r="1.35" fill="#f5892a"/>
<circle cx="283.4" cy="696.5" r="1.35" fill="#f5892a"/>
<circle cx="331.8" cy="525.4" r="1.35" fill="#0d3f7a"/>
<circle cx="334.9" cy="552.8" r="1.35" fill="#0d3f7a"/>
<circle cx="316.8" cy="560.3" r="1.35" fill="#0d3f7a"/>
<circle cx="317.5" cy="574.5" r="1.35" fill="#0d3f7a"/>
<circle cx="316.5" cy="586.8" r="1.35" fill="#0d3f7a"/>
<circle cx="322.6" cy="588.4" r="1.35" fill="#0d3f7a"/>
<circle cx="349.5" cy="598.4" r="1.35" fill="#0d3f7a"/>
<circle cx="324.0" cy="609.2" r="1.35" fill="#0d3f7a"/>
<circle cx="326.8" cy="618.1" r="1.35" fill="#0d3f7a"/>
<circle cx="354.9" cy="618.1" r="1.35" fill="#0d3f7a"/>
<circle cx="318.8" cy="620.7" r="1.35" fill="#0d3f7a"/>
<circle cx="320.3" cy="621.6" r="1.35" fill="#0d3f7a"/>
<circle cx="320.9" cy="624.7" r="1.35" fill="#0d3f7a"/>
<circle cx="320.2" cy="627.3" r="1.35" fill="#0d3f7a"/>
<circle cx="316.8" cy="616.1" r="1.35" fill="#34a94a"/>
<circle cx="366.8" cy="635.4" r="1.35" fill="#f5892a"/>
<circle cx="318.8" cy="641.5" r="1.35" fill="#0d3f7a"/>
<circle cx="321.8" cy="641.2" r="1.35" fill="#0d3f7a"/>
<circle cx="362.2" cy="642.3" r="1.35" fill="#0d3f7a"/>
<circle cx="324.5" cy="648.2" r="1.35" fill="#0d3f7a"/>
<circle cx="336.8" cy="650.5" r="1.35" fill="#0d3f7a"/>
<circle cx="332.9" cy="656.6" r="1.35" fill="#0d3f7a"/>
<circle cx="316.8" cy="663.1" r="1.35" fill="#0d3f7a"/>
<circle cx="317.5" cy="667.2" r="1.35" fill="#0d3f7a"/>
<circle cx="375.2" cy="669.7" r="1.35" fill="#0d3f7a"/>
<circle cx="347.8" cy="679.7" r="1.35" fill="#0d3f7a"/>
<circle cx="446.8" cy="591.8" r="1.35" fill="#0d3f7a"/>
<circle cx="413.2" cy="653.0" r="1.35" fill="#0d3f7a"/>
<circle cx="495.5" cy="674.5" r="1.35" fill="#0d3f7a"/>
<circle cx="212.9" cy="328.3" r="2.10" fill="#4e1f6e"/>
<circle cx="234.2" cy="346.8" r="1.10" fill="#4e1f6e"/>
<circle cx="232.8" cy="450.0" r="1.20" fill="#f5892a"/>
<circle cx="220.4" cy="462.3" r="1.35" fill="#34a94a"/>
<circle cx="224.2" cy="463.4" r="2.30" fill="#f5892a"/>
<circle cx="231.0" cy="462.4" r="1.35" fill="#0d3f7a"/>
<circle cx="198.9" cy="471.4" r="1.35" fill="#0d3f7a"/>
<circle cx="182.4" cy="478.5" r="1.35" fill="#0d3f7a"/>
<circle cx="226.3" cy="483.9" r="1.35" fill="#34a94a"/>
<circle cx="217.2" cy="488.7" r="1.35" fill="#34a94a"/>
<circle cx="227.1" cy="492.7" r="1.35" fill="#34a94a"/>
<circle cx="203.8" cy="505.3" r="1.35" fill="#4e1f6e"/>
<circle cx="224.3" cy="514.3" r="1.35" fill="#f5892a"/>
<circle cx="221.2" cy="516.2" r="1.35" fill="#0d3f7a"/>
<circle cx="220.1" cy="522.3" r="1.35" fill="#0d3f7a"/>
<circle cx="148.0" cy="515.0" r="2.50" fill="#1f9fdc"/>
<circle cx="102.3" cy="540.8" r="1.35" fill="#1f9fdc"/>
<circle cx="200.4" cy="521.2" r="1.35" fill="#34a94a"/>
<circle cx="198.8" cy="526.9" r="1.35" fill="#1f9fdc"/>
<circle cx="207.7" cy="529.2" r="1.35" fill="#1f9fdc"/>
<circle cx="194.2" cy="533.7" r="1.35" fill="#1f9fdc"/>
<circle cx="205.8" cy="535.4" r="1.35" fill="#0d3f7a"/>
<circle cx="235.6" cy="523.8" r="1.35" fill="#1f9fdc"/>
<circle cx="190.0" cy="548.6" r="1.35" fill="#1f9fdc"/>
<circle cx="201.6" cy="546.4" r="1.35" fill="#34a94a"/>
<circle cx="227.9" cy="545.0" r="1.35" fill="#0d3f7a"/>
<circle cx="228.8" cy="548.5" r="1.35" fill="#0d3f7a"/>
<circle cx="231.7" cy="550.4" r="1.35" fill="#0d3f7a"/>
<circle cx="224.2" cy="546.7" r="1.35" fill="#1f9fdc"/>
<circle cx="230.4" cy="566.0" r="1.35" fill="#34a94a"/>
<circle cx="205.8" cy="564.0" r="1.35" fill="#1f9fdc"/>
<circle cx="201.0" cy="558.5" r="1.35" fill="#34a94a"/>
<circle cx="217.7" cy="561.9" r="1.35" fill="#1f9fdc"/>
<circle cx="218.8" cy="568.5" r="1.35" fill="#1f9fdc"/>
<circle cx="226.0" cy="571.2" r="1.35" fill="#0d3f7a"/>
<circle cx="229.2" cy="576.0" r="1.35" fill="#f5892a"/>
<circle cx="208.0" cy="578.8" r="1.35" fill="#0d3f7a"/>
<circle cx="235.4" cy="592.3" r="1.35" fill="#1f9fdc"/>
<circle cx="219.6" cy="589.6" r="1.35" fill="#1f9fdc"/>
<circle cx="217.3" cy="599.4" r="1.35" fill="#34a94a"/>
<circle cx="232.3" cy="598.7" r="1.35" fill="#34a94a"/>
<circle cx="209.4" cy="612.3" r="1.35" fill="#34a94a"/>
<circle cx="223.5" cy="614.0" r="1.35" fill="#34a94a"/>
<circle cx="226.9" cy="613.7" r="1.35" fill="#0d3f7a"/>
<circle cx="188.4" cy="621.8" r="1.35" fill="#1f9fdc"/>
<circle cx="158.3" cy="617.0" r="1.35" fill="#1f9fdc"/>
<circle cx="149.0" cy="587.9" r="1.35" fill="#34a94a"/>
<circle cx="107.4" cy="615.2" r="1.35" fill="#0d3f7a"/>
<circle cx="229.5" cy="630.0" r="1.35" fill="#0d3f7a"/>
<circle cx="216.1" cy="635.3" r="1.35" fill="#1f9fdc"/>
<circle cx="203.7" cy="640.2" r="1.35" fill="#0d3f7a"/>
<circle cx="234.4" cy="639.7" r="1.35" fill="#0d3f7a"/>
<circle cx="232.7" cy="647.1" r="1.35" fill="#0d3f7a"/>
<circle cx="216.1" cy="653.1" r="1.35" fill="#34a94a"/>
<circle cx="233.5" cy="652.6" r="1.35" fill="#0d3f7a"/>
<circle cx="217.9" cy="674.6" r="1.35" fill="#0d3f7a"/>
<circle cx="333.5" cy="462.3" r="1.35" fill="#c01040"/>
<circle cx="353.1" cy="462.7" r="1.35" fill="#c01040"/>
<circle cx="331.7" cy="471.0" r="1.35" fill="#c01040"/>
<circle cx="339.8" cy="507.6" r="1.35" fill="#c01040"/>
<circle cx="359.8" cy="505.3" r="1.35" fill="#c01040"/>
<text x="172.9" y="331.7" font-size="10.7" font-style="italic" font-weight="bold" fill="#54246f" stroke="#54246f" stroke-width="0.30" textLength="34.2" lengthAdjust="spacingAndGlyphs">FGFR1</text>
<text x="162.9" y="426.9" font-size="10.7" font-style="italic" font-weight="bold" fill="#f08a22" stroke="#f08a22" stroke-width="0.30" textLength="33.6" lengthAdjust="spacingAndGlyphs">CD11c</text>
<text x="159.4" y="439.8" font-size="10.7" font-style="italic" font-weight="bold" fill="#f08a22" stroke="#f08a22" stroke-width="0.30" textLength="40.4" lengthAdjust="spacingAndGlyphs">(ITGAX)</text>
<text x="112.3" y="505.0" font-size="10.7" font-style="italic" font-weight="bold" fill="#2a9fd8" stroke="#2a9fd8" stroke-width="0.30" textLength="25.3" lengthAdjust="spacingAndGlyphs">ICOS</text>
<text x="321.5" y="451.9" font-size="8.6" font-style="italic" font-weight="bold" fill="#bc1038" stroke="#bc1038" stroke-width="0.30" textLength="19.3" lengthAdjust="spacingAndGlyphs">SRM</text>
<text x="367.7" y="456.0" font-size="8.6" font-style="italic" font-weight="bold" fill="#bc1038" stroke="#bc1038" stroke-width="0.30" textLength="28.8" lengthAdjust="spacingAndGlyphs">FKBP4</text>
<text x="342.3" y="477.5" font-size="8.6" font-style="italic" font-weight="bold" fill="#bc1038" stroke="#bc1038" stroke-width="0.30" textLength="30.8" lengthAdjust="spacingAndGlyphs">MRTO4</text>
<text x="325.0" y="497.7" font-size="8.6" font-style="italic" font-weight="bold" fill="#bc1038" stroke="#bc1038" stroke-width="0.30" textLength="26.0" lengthAdjust="spacingAndGlyphs">PAICS</text>
<text x="376.3" y="500.0" font-size="8.6" font-style="italic" font-weight="bold" fill="#bc1038" stroke="#bc1038" stroke-width="0.30" textLength="19.9" lengthAdjust="spacingAndGlyphs">MYC</text>
<text x="197.8" y="355.4" font-size="8.6" font-style="italic" fill="#54246f" stroke="#54246f" stroke-width="0.12" textLength="28.4" lengthAdjust="spacingAndGlyphs">BMP2K</text>
<text x="213.2" y="440.3" font-size="8.6" font-style="italic" fill="#f08a22" stroke="#f08a22" stroke-width="0.12" textLength="20.5" lengthAdjust="spacingAndGlyphs">CD80</text>
<text x="238.0" y="458.9" font-size="8.6" font-style="italic" fill="#3aa84a" stroke="#3aa84a" stroke-width="0.12" textLength="23.5" lengthAdjust="spacingAndGlyphs">TRAF1</text>
<text x="195.2" y="464.0" font-size="8.6" font-style="italic" fill="#3aa84a" stroke="#3aa84a" stroke-width="0.12" textLength="22.9" lengthAdjust="spacingAndGlyphs">CCR4</text>
<text x="220.2" y="474.7" font-size="8.6" font-style="italic" fill="#4670a8" stroke="#4670a8" stroke-width="0.12" textLength="14.5" lengthAdjust="spacingAndGlyphs">FAS</text>
<text x="189.0" y="482.0" font-size="8.6" font-style="italic" fill="#3aa84a" stroke="#3aa84a" stroke-width="0.12" textLength="34.7" lengthAdjust="spacingAndGlyphs">TNFRSF9</text>
<text x="192.3" y="491.1" font-size="8.6" font-style="italic" fill="#3aa84a" stroke="#3aa84a" stroke-width="0.12" textLength="21.5" lengthAdjust="spacingAndGlyphs">CD96</text>
<text x="203.8" y="501.5" font-size="8.6" font-style="italic" fill="#3aa84a" stroke="#3aa84a" stroke-width="0.12" textLength="22.6" lengthAdjust="spacingAndGlyphs">IL2RB</text>
<text x="171.0" y="506.3" font-size="8.6" font-style="italic" fill="#54246f" stroke="#54246f" stroke-width="0.12" textLength="29.5" lengthAdjust="spacingAndGlyphs">OBSCN</text>
<text x="213.8" y="510.3" font-size="8.6" font-style="italic" fill="#f08a22" stroke="#f08a22" stroke-width="0.12" textLength="39.8" lengthAdjust="spacingAndGlyphs">HLA-DRB1</text>
<text x="182.7" y="516.7" font-size="8.6" font-style="italic" fill="#3aa84a" stroke="#3aa84a" stroke-width="0.12" textLength="16.9" lengthAdjust="spacingAndGlyphs">IL7R</text>
<text x="170.8" y="527.3" font-size="8.6" font-style="italic" fill="#2a9fd8" stroke="#2a9fd8" stroke-width="0.12" textLength="16.7" lengthAdjust="spacingAndGlyphs">CD7</text>
<text x="163.8" y="535.4" font-size="8.6" font-style="italic" fill="#2a9fd8" stroke="#2a9fd8" stroke-width="0.12" textLength="11.8" lengthAdjust="spacingAndGlyphs">ITK</text>
<text x="208.7" y="537.5" font-size="8.6" font-style="italic" fill="#2a9fd8" stroke="#2a9fd8" stroke-width="0.12" textLength="30.7" lengthAdjust="spacingAndGlyphs">SLAMF1</text>
<text x="95.0" y="537.0" font-size="8.6" font-style="italic" fill="#2a9fd8" stroke="#2a9fd8" stroke-width="0.12" textLength="32.0" lengthAdjust="spacingAndGlyphs">CD40LG</text>
<text x="153.8" y="551.0" font-size="8.6" font-style="italic" fill="#2a9fd8" stroke="#2a9fd8" stroke-width="0.12" textLength="25.0" lengthAdjust="spacingAndGlyphs">CTLA4</text>
<text x="205.2" y="555.6" font-size="8.6" font-style="italic" fill="#2a9fd8" stroke="#2a9fd8" stroke-width="0.12" textLength="18.0" lengthAdjust="spacingAndGlyphs">ICA1</text>
<text x="221.6" y="559.7" font-size="8.6" font-style="italic" fill="#3aa84a" stroke="#3aa84a" stroke-width="0.12" textLength="19.5" lengthAdjust="spacingAndGlyphs">AKT3</text>
<text x="163.8" y="562.9" font-size="8.6" font-style="italic" fill="#2a9fd8" stroke="#2a9fd8" stroke-width="0.12" textLength="30.8" lengthAdjust="spacingAndGlyphs">CXCL13</text>
<text x="168.8" y="572.6" font-size="8.6" font-style="italic" fill="#2a9fd8" stroke="#2a9fd8" stroke-width="0.12" textLength="33.5" lengthAdjust="spacingAndGlyphs">TNFRSF4</text>
<text x="233.1" y="576.9" font-size="8.6" font-style="italic" fill="#f08a22" stroke="#f08a22" stroke-width="0.12" textLength="22.6" lengthAdjust="spacingAndGlyphs">NOD2</text>
<text x="180.2" y="580.8" font-size="8.6" font-style="italic" fill="#1d3f72" stroke="#1d3f72" stroke-width="0.12" textLength="16.9" lengthAdjust="spacingAndGlyphs">AIRE</text>
<text x="215.8" y="585.8" font-size="8.6" font-style="italic" fill="#2a9fd8" stroke="#2a9fd8" stroke-width="0.12" textLength="17.3" lengthAdjust="spacingAndGlyphs">PD-1</text>
<text x="175.0" y="591.0" font-size="8.6" font-style="italic" fill="#2a9fd8" stroke="#2a9fd8" stroke-width="0.12" textLength="32.1" lengthAdjust="spacingAndGlyphs">SH2D1A</text>
<text x="134.9" y="590.4" font-size="8.6" font-style="italic" fill="#3aa84a" stroke="#3aa84a" stroke-width="0.12" textLength="10.6" lengthAdjust="spacingAndGlyphs">IL2</text>
<text x="192.3" y="598.7" font-size="8.6" font-style="italic" fill="#3aa84a" stroke="#3aa84a" stroke-width="0.12" textLength="19.6" lengthAdjust="spacingAndGlyphs">TIGIT</text>
<text x="177.3" y="606.3" font-size="8.6" font-style="italic" fill="#3aa84a" stroke="#3aa84a" stroke-width="0.12" textLength="21.7" lengthAdjust="spacingAndGlyphs">CD28</text>
<text x="152.2" y="612.9" font-size="8.6" font-style="italic" fill="#2a9fd8" stroke="#2a9fd8" stroke-width="0.12" textLength="15.0" lengthAdjust="spacingAndGlyphs">IL21</text>
<text x="173.1" y="615.4" font-size="8.6" font-style="italic" fill="#2a9fd8" stroke="#2a9fd8" stroke-width="0.12" textLength="25.4" lengthAdjust="spacingAndGlyphs">FOXP3</text>
</g><rect x="0.5" y="0.5" width="519" height="763" fill="none" stroke="#000" stroke-width="1.2"/>
</svg>
</body></html>
